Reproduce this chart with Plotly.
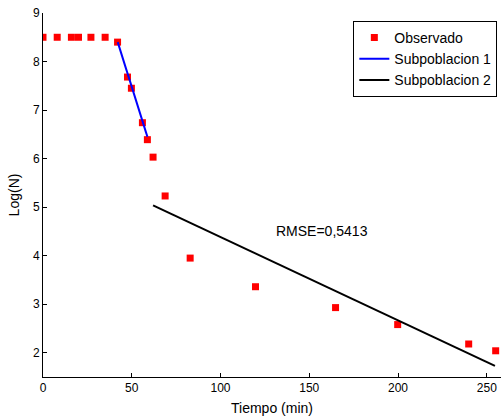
import plotly.graph_objects as go

obs_t = [0, 8, 16, 20, 27, 35, 42, 47.6, 49.8, 56, 58.8, 62, 68.8, 82.9, 119.7, 164.8, 199.8, 239.8, 255]
obs_y = [8.5, 8.5, 8.5, 8.5, 8.5, 8.5, 8.40, 7.68, 7.45, 6.74, 6.39, 6.03, 5.23, 3.95, 3.36, 2.93, 2.58, 2.18, 2.04]

sub1_t = [42.1, 58.8]
sub1_y = [8.40, 6.45]

sub2_t = [62, 254.6]
sub2_y = [5.035, 1.73]

xticks = [0, 50, 100, 150, 200, 250]
yticks = [2, 3, 4, 5, 6, 7, 8, 9]

font = "Liberation Sans, Arial, sans-serif"

fig = go.Figure()
fig.add_trace(go.Scatter(x=obs_t, y=obs_y, mode="markers", name="Observado",
                         marker=dict(symbol="square", size=7, color="#ff0000", line=dict(width=0))))
fig.add_trace(go.Scatter(x=sub1_t, y=sub1_y, mode="lines", name="Subpoblacion 1",
                         line=dict(color="#0000ff", width=2)))
fig.add_trace(go.Scatter(x=sub2_t, y=sub2_y, mode="lines", name="Subpoblacion 2",
                         line=dict(color="#000000", width=2)))

fig.add_annotation(x=130, y=4.5, xanchor="left", yanchor="middle", text="RMSE=0,5413",
                   showarrow=False, font=dict(size=14, color="black", family=font))

fig.update_layout(
    width=502, height=417,
    margin=dict(l=43, r=1, t=13, b=40),
    paper_bgcolor="white", plot_bgcolor="white",
    font=dict(family=font, size=12, color="black"),
    showlegend=True,
    legend=dict(x=0.992, y=0.978, xanchor="right", yanchor="top",
                bgcolor="white", bordercolor="black", borderwidth=1,
                font=dict(size=14, family=font), tracegroupgap=0),
    xaxis=dict(range=[0, 258], tickvals=xticks, ticks="inside", ticklen=4, tickcolor="black",
               showline=True, linecolor="black", linewidth=1, showgrid=False, zeroline=False,
               title=dict(text="Tiempo (min)", font=dict(size=14), standoff=8),
               tickfont=dict(size=12)),
    yaxis=dict(range=[1.5, 9], tickvals=yticks, ticks="inside", ticklen=4, tickcolor="black",
               showline=True, linecolor="black", linewidth=1, showgrid=False, zeroline=False,
               title=dict(text="Log(N)", font=dict(size=14), standoff=10),
               tickfont=dict(size=12)),
)

fig.write_html("out.html", config={"displayModeBar": False},
               post_script="document.body.style.margin='0';")
